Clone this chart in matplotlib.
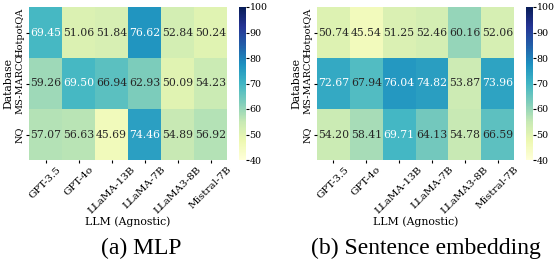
import matplotlib
matplotlib.use("Agg")
import matplotlib.pyplot as plt
import seaborn as sns
import numpy as np

llms = ["GPT-3.5", "GPT-4o", "LLaMA-13B", "LLaMA-7B", "LLaMA3-8B", "Mistral-7B"]
databases = ["HotpotQA", "MS-MARCO", "NQ"]
mlp = [[69.45, 51.06, 51.84, 76.62, 52.84, 50.24],
       [59.26, 69.50, 66.94, 62.93, 50.09, 54.23],
       [57.07, 56.63, 45.69, 74.46, 54.89, 56.92]]
sent = [[50.74, 45.54, 51.25, 52.46, 60.16, 52.06],
        [72.67, 67.94, 76.04, 74.82, 53.87, 73.96],
        [54.20, 58.41, 69.71, 64.13, 54.78, 66.59]]
captions = ["(a) MLP", "(b) Sentence embedding"]

plt.rcParams['font.family'] = ['DejaVu Serif']
fig = plt.figure(figsize=(5.55, 2.68), dpi=100)

W, H = 555, 268
top, bot = 7, 160
specs = [(29, 227, 239, 246, 141), (317, 514, 526, 533, 426)]
for data, cap, (x0, x1, c0, c1, cx) in zip([mlp, sent], captions, specs):
    ax = fig.add_axes([x0 / W, 1 - bot / H, (x1 - x0) / W, (bot - top) / H])
    cax = fig.add_axes([c0 / W, 1 - bot / H, (c1 - c0) / W, (bot - top) / H])
    sns.heatmap(np.array(data), ax=ax, cbar_ax=cax, cmap="YlGnBu", vmin=40, vmax=100,
                annot=True, fmt=".2f", annot_kws={"fontsize": 7.8},
                xticklabels=llms, yticklabels=databases)
    ax.set_xticklabels(llms, rotation=45, ha="center", fontsize=7.5)
    ax.set_yticklabels(databases, rotation=90, va="center", fontsize=7.0)
    ax.tick_params(length=2, pad=1.5)
    ax.set_xlabel("LLM (Agnostic)", fontsize=7.8, labelpad=1)
    ax.set_ylabel("Database", fontsize=7.8, labelpad=1)
    cax.set_yticks([40, 50, 60, 70, 80, 90, 100])
    cax.tick_params(labelsize=6.8, length=2, pad=0.5)
    fig.text(cx / W, 1 - 248 / H, cap, ha="center", va="center", fontsize=17,
             family="Liberation Serif")

fig.savefig("out.png", dpi=100)
